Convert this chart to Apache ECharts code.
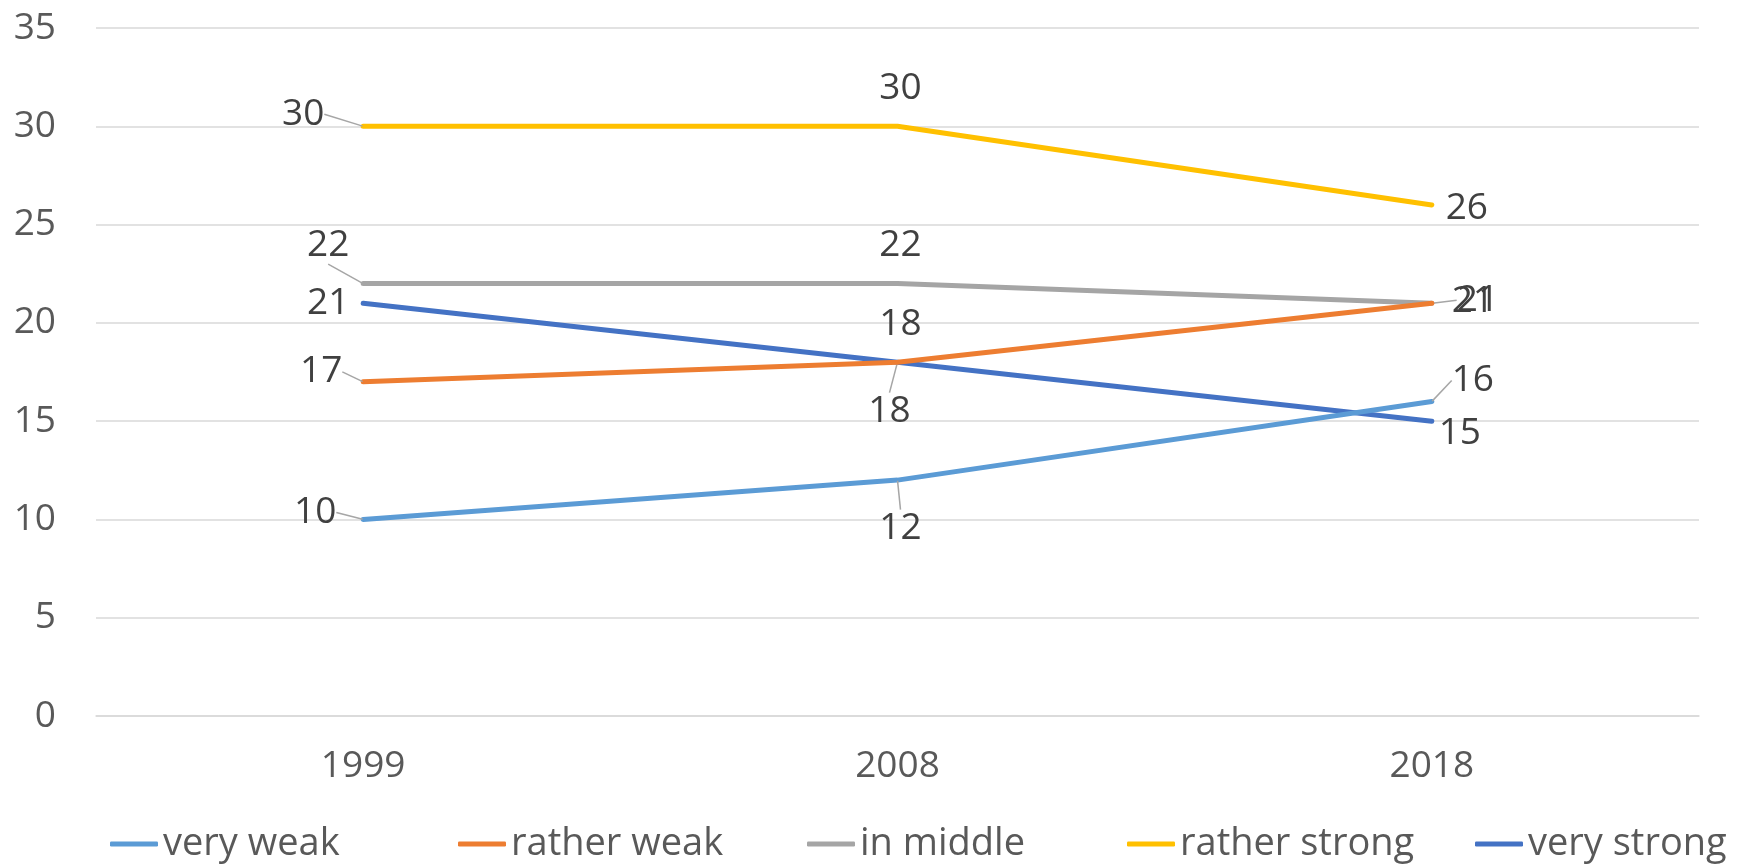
<!DOCTYPE html>
<html>
<head>
<meta charset="utf-8">
<script src="https://cdn.jsdelivr.net/npm/echarts@6/dist/echarts.min.js"></script>
<style>
  html, body { margin: 0; padding: 0; background: #fff; }
  #chart { width: 1762px; height: 864px; }
</style>
</head>
<body>
<div id="chart"></div>
<script>
// data
const years = ['1999', '2008', '2018']
const seriesNames = ['very weak', 'rather weak', 'in middle', 'rather strong', 'very strong']
const veryWeak = [10, 12, 16]
const ratherWeak = [17, 18, 21]
const inMiddle = [22, 22, 21]
const ratherStrong = [30, 30, 26]
const veryStrong = [21, 18, 15]
const yTicks = [0, 5, 10, 15, 20, 25, 30, 35]

const colors = ['#5B9BD5', '#ED7D31', '#A5A5A5', '#FFC000', '#4472C4']
const font = '"Open Sans", "Noto Sans", sans-serif'

// where each data label sits, relative to its point
const labelOffsets = [
  [[-48, -7], [3, 48], [41, -21]],
  [[-42, -10], [3, -38], [41, -2]],
  [[-35, -38], [3, -38], [46, -3]],
  [[-60, -12], [3, -38], [35, 4]],
  [[-35, 0], [-8, 49], [28, 12]]
]
// which labels get a leader line
const leaderLines = [
  [true, true, true],
  [true, false, false],
  [true, false, true],
  [true, false, false],
  [false, true, false]
]
const legendLefts = [105, 453, 802, 1122, 1470]

const allValues = [veryWeak, ratherWeak, inMiddle, ratherStrong, veryStrong]

const chart = echarts.init(document.getElementById('chart'))

const series = seriesNames.map((name, i) => {
  return {
    name: name,
    type: 'line',
    data: allValues[i].map((v, j) => {
      return { value: v, labelLine: { show: leaderLines[i][j] } }
    }),
    symbol: 'circle',
    symbolSize: 1,
    showSymbol: true,
    lineStyle: { width: 5, color: colors[i], cap: 'round' },
    itemStyle: { color: colors[i] },
    label: {
      show: true,
      position: 'inside',
      fontSize: 37,
      fontFamily: font,
      color: '#404040'
    },
    labelLine: {
      show: false,
      lineStyle: { color: '#a6a6a6', width: 1.5 }
    },
    labelLayout: function(p) {
      const o = labelOffsets[i][p.dataIndex]
      return { dx: o[0], dy: o[1] }
    },
    emphasis: { disabled: true },
    z: 10 - i
  }
})

const option = {
  animation: false,
  color: colors,
  grid: {
    left: 96,
    right: 63,
    top: 28,
    bottom: 148,
    containLabel: false
  },
  legend: seriesNames.map((name, i) => {
    return {
      data: [name],
      left: legendLefts[i],
      top: 820,
      icon: 'roundRect',
      itemWidth: 48,
      itemHeight: 5,
      selectedMode: false,
      textStyle: { fontSize: 38, fontFamily: font, color: '#595959' }
    }
  }),
  xAxis: {
    type: 'category',
    data: years,
    boundaryGap: true,
    axisLine: { show: true, lineStyle: { color: '#d9d9d9', width: 1.5 } },
    axisTick: { show: false },
    axisLabel: { fontSize: 37, fontFamily: font, color: '#595959', margin: 32 }
  },
  yAxis: {
    type: 'value',
    min: yTicks[0],
    max: yTicks[yTicks.length - 1],
    interval: 5,
    axisLine: { show: false },
    axisTick: { show: false },
    axisLabel: { fontSize: 37, fontFamily: font, color: '#595959', margin: 40 },
    splitLine: { lineStyle: { color: '#d9d9d9', width: 1.5 } }
  },
  series: series
}

chart.setOption(option)
</script>
</body>
</html>
